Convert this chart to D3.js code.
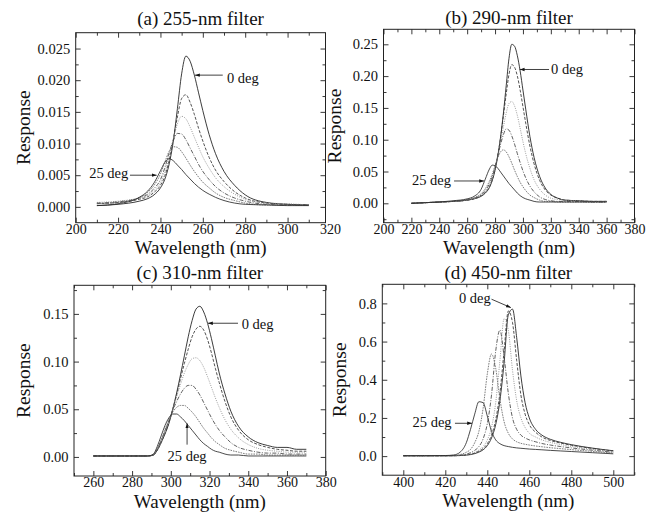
<!DOCTYPE html>
<html lang="en">
<head>
<meta charset="UTF-8">
<title>filter response vs angle</title>
<script src="https://d3js.org/d3.v7.min.js"></script>
<style>
	body { margin: 0; background: #fff; }
	svg text { font-family: "Liberation Serif", "Times New Roman", serif; fill: #111; }
</style>
</head>
<body>
<script>
// incidence angles, one curve each (0..25 deg)
var angles = ["0 deg", "5 deg", "10 deg", "15 deg", "20 deg", "25 deg"];

// (a) 255-nm filter
var wlA = [210,220,230,234,237,240,242,244,246,248,250,252,254,256,258,260,263,266,270,275,280,290,300,310];
var respA = [
	[.0002,.0004,.0009,.0013,.0019,.0030,.0043,.0066,.0102,.0155,.0210,.0238,.0230,.0208,.0180,.0152,.0114,.0084,.0056,.0034,.0019,.0007,.0004,.0003],
	[.0005,.0007,.0012,.0016,.0023,.0034,.0048,.0072,.0105,.0142,.0171,.0177,.0165,.0146,.0124,.0104,.0078,.0058,.0040,.0024,.0014,.0006,.0004,.0003],
	[.0007,.0009,.0014,.0018,.0026,.0038,.0054,.0078,.0106,.0131,.0143,.0139,.0126,.0110,.0094,.0079,.0061,.0046,.0032,.0020,.0012,.0006,.0005,.0003],
	[.0006,.0008,.0014,.0020,.0029,.0043,.0061,.0084,.0104,.0116,.0115,.0106,.0093,.0080,.0067,.0056,.0043,.0032,.0022,.0014,.0009,.0004,.0003,.0003],
	[.0005,.0007,.0015,.0023,.0034,.0052,.0070,.0087,.0095,.0094,.0087,.0077,.0066,.0056,.0047,.0039,.0030,.0022,.0015,.0010,.0006,.0003,.0003,.0002],
	[.0002,.0005,.0015,.0025,.0038,.0057,.0070,.0076,.0073,.0066,.0059,.0051,.0044,.0037,.0031,.0026,.0020,.0015,.0010,.0006,.0004,.0003,.0002,.0002]
];
var xTicksA = [200,220,240,260,280,300,320];
var yTicksA = [0,0.005,0.010,0.015,0.020,0.025];

// (b) 290-nm filter
var wlB = [220,230,240,250,260,265,270,273,276,278,280,282,284,286,288,290,292,294,296,298,300,302,305,308,312,316,320,325,330,340,350,360];
var respB = [
	[0,.001,.002,.003,.005,.007,.011,.016,.025,.036,.052,.075,.105,.142,.185,.228,.250,.247,.232,.208,.178,.148,.105,.072,.042,.024,.014,.008,.005,.004,.003,.003],
	[0,.001,.002,.003,.005,.007,.012,.017,.026,.037,.053,.076,.104,.138,.172,.203,.218,.214,.200,.178,.152,.126,.090,.062,.036,.021,.013,.008,.005,.004,.003,.003],
	[0,.001,.002,.003,.005,.007,.012,.018,.028,.039,.054,.074,.096,.120,.142,.157,.160,.153,.138,.118,.097,.078,.055,.037,.022,.013,.008,.006,.005,.004,.003,.003],
	[0,.001,.002,.003,.005,.008,.013,.020,.031,.042,.057,.075,.093,.108,.117,.115,.106,.093,.078,.064,.051,.040,.027,.018,.010,.006,.004,.003,.003,.003,.002,.002],
	[0,.001,.002,.003,.006,.009,.015,.023,.035,.046,.059,.072,.081,.084,.081,.073,.063,.052,.042,.033,.026,.020,.013,.009,.005,.003,.003,.002,.002,.002,.002,.002],
	[0,.001,.002,.004,.007,.011,.022,.038,.054,.060,.059,.055,.049,.043,.037,.031,.026,.021,.016,.012,.009,.007,.005,.003,.002,.002,.002,.002,.002,.002,.002,.002]
];
var xTicksB = [200,220,240,260,280,300,320,340,360,380];
var yTicksB = [0,0.05,0.10,0.15,0.20,0.25];

// (c) 310-nm filter
var wlC = [260,270,280,288,291,293,295,297,299,301,303,305,307,309,311,313,315,317,319,321,323,325,328,331,335,340,345,350,355,360,365,370];
var respC = [
	[.001,.001,.001,.001,.002,.007,.015,.024,.035,.050,.067,.086,.106,.126,.143,.155,.158,.152,.140,.124,.106,.088,.066,.048,.032,.021,.015,.012,.010,.010,.008,.008],
	[.001,.001,.001,.001,.002,.007,.015,.025,.036,.050,.065,.082,.098,.113,.126,.134,.137,.133,.123,.109,.093,.078,.058,.042,.028,.018,.013,.010,.008,.007,.006,.006],
	[.001,.001,.001,.001,.002,.008,.016,.026,.037,.050,.063,.076,.088,.097,.103,.104,.101,.094,.084,.073,.062,.052,.039,.029,.020,.013,.009,.007,.006,.005,.005,.005],
	[.001,.001,.001,.001,.002,.008,.017,.027,.038,.049,.058,.066,.072,.075,.075,.071,.065,.057,.049,.041,.034,.028,.021,.015,.010,.007,.005,.004,.004,.003,.003,.003],
	[.001,.001,.001,.001,.002,.009,.018,.029,.039,.047,.052,.054,.054,.051,.047,.042,.036,.030,.025,.020,.016,.013,.009,.007,.005,.003,.003,.002,.002,.002,.002,.002],
	[.001,.001,.001,.001,.003,.011,.022,.033,.041,.045,.045,.042,.038,.033,.028,.023,.018,.014,.011,.008,.006,.005,.003,.002,.002,.001,.001,.001,.001,.001,.001,.001]
];
var xTicksC = [260,280,300,320,340,360,380];
var yTicksC = [0,0.05,0.10,0.15];

// (d) 450-nm filter
var wlD = [400,410,420,424,427,430,432,434,436,438,440,442,444,446,448,450,452,454,456,458,460,463,466,470,475,480,490,500];
var respD = [
	[.002,.002,.002,.002,.003,.005,.008,.013,.021,.033,.055,.095,.165,.29,.49,.74,.77,.62,.42,.28,.2,.14,.11,.088,.072,.06,.042,.028],
	[.002,.002,.002,.002,.003,.006,.01,.016,.026,.04,.065,.11,.19,.33,.55,.76,.7,.5,.32,.22,.165,.125,.1,.082,.068,.057,.04,.027],
	[.002,.002,.002,.002,.004,.007,.012,.02,.032,.05,.085,.15,.28,.5,.72,.66,.45,.29,.2,.15,.12,.1,.085,.072,.06,.051,.036,.024],
	[.002,.002,.002,.003,.005,.01,.018,.03,.05,.09,.17,.32,.55,.66,.52,.33,.2,.14,.11,.095,.085,.075,.066,.058,.05,.043,.031,.02],
	[.002,.002,.002,.003,.008,.02,.035,.07,.13,.25,.43,.535,.46,.3,.18,.12,.09,.075,.067,.062,.058,.053,.049,.044,.039,.034,.025,.016],
	[.002,.002,.003,.006,.02,.07,.14,.22,.285,.28,.21,.13,.085,.065,.055,.05,.046,.043,.041,.039,.037,.035,.033,.03,.027,.024,.018,.012]
];
var xTicksD = [400,420,440,460,480,500];
var yTicksD = [0,0.2,0.4,0.6,0.8];

// line look per angle
var strokes = ["#1a1a1a", "#333", "#8a8a8a", "#444", "#666", "#2a2a2a"];
var dashes  = [null, "3,1.6", "1,1.3", "4,1.5,1,1.5", "1.6,1", null];

var W = 659, H = 516;
var svg = d3.select("body").append("svg").attr("width", W).attr("height", H);

svg.append("defs").append("marker")
	.attr("id", "ah").attr("viewBox", "0 0 10 10")
	.attr("refX", 10).attr("refY", 5)
	.attr("markerWidth", 6).attr("markerHeight", 6)
	.attr("orient", "auto")
	.append("path").attr("d", "M0,1.5L10,5L0,8.5Z").attr("fill", "#111");

var panels = [
	{ title: "(a) 255-nm filter", wl: wlA, resp: respA, xt: xTicksA, yt: yTicksA, fmt: ".3f",
	  xDom: [200, 317.9], yDom: [-0.0025, 0.0275], box: [75.7, 32.7, 325.5, 222.7],
	  xStep: 10, yStep: 0.0025, titleY: 24.5, ylabX: 30,
	  notes: [
		{ t: "0 deg", x: 271.4, y: 0.0196, anchor: "start", from: [269.4, 0.0208], to: [256.3, 0.0208] },
		{ t: "25 deg", x: 224.8, y: 0.00455, anchor: "end", from: [225.6, 0.0050], to: [238.2, 0.0050] }
	  ] },
	{ title: "(b) 290-nm filter", wl: wlB, resp: respB, xt: xTicksB, yt: yTicksB, fmt: ".2f",
	  xDom: [200, 380], yDom: [-0.0305, 0.2736], box: [383.5, 29.3, 634.5, 222.7],
	  xStep: 10, yStep: 0.025, titleY: 23.5, ylabX: 341,
	  notes: [
		{ t: "0 deg", x: 320.2, y: 0.2033, anchor: "start", from: [318.7, 0.2104], to: [297.7, 0.2104] },
		{ t: "25 deg", x: 248.4, y: 0.0288, anchor: "end", from: [250.6, 0.0351], to: [272.1, 0.0351] }
	  ] },
	{ title: "(c) 310-nm filter", wl: wlC, resp: respC, xt: xTicksC, yt: yTicksC, fmt: ".2f",
	  xDom: [250, 380], yDom: [-0.02, 0.18], box: [74, 285.3, 325.7, 476],
	  xStep: 10, yStep: 0.025, titleY: 279, ylabX: 30,
	  notes: [
		{ t: "0 deg", x: 336.6, y: 0.1339, anchor: "start", from: [334.7, 0.1402], to: [319.2, 0.1402] },
		{ t: "25 deg", x: 308.4, y: -0.0039, anchor: "middle", from: [308.4, 0.0129], to: [308.4, 0.0351] }
	  ] },
	{ title: "(d) 450-nm filter", wl: wlD, resp: respD, xt: xTicksD, yt: yTicksD, fmt: ".1f",
	  xDom: [390, 510], yDom: [-0.1, 0.9], box: [382.3, 284.3, 634.3, 475.2],
	  xStep: 10, yStep: 0.1, titleY: 278.5, ylabX: 346,
	  notes: [
		{ t: "0 deg", x: 426.5, y: 0.803, anchor: "start", from: [442, 0.822], to: [451.2, 0.778] },
		{ t: "25 deg", x: 423.0, y: 0.154, anchor: "end", from: [424.6, 0.172], to: [432.7, 0.172] }
	  ] }
];

function styleAxis(g, size) {
	g.select(".domain").remove();
	g.attr("font-family", null).attr("font-size", size);
	g.selectAll(".tick line").attr("stroke", "#222").attr("stroke-width", 0.9);
}

panels.forEach(function(p) {
	var x0 = p.box[0], y0 = p.box[1], x1 = p.box[2], y1 = p.box[3];
	var x = d3.scaleLinear().domain(p.xDom).range([x0, x1]);
	var y = d3.scaleLinear().domain(p.yDom).range([y1, y0]);
	var g = svg.append("g");

	var xMinor = d3.range(Math.ceil(p.xDom[0] / p.xStep) * p.xStep, p.xDom[1] + 1e-9, p.xStep)
		.filter(function(v){ return p.xt.indexOf(v) < 0; });
	var yMinor = d3.range(0, p.yDom[1], p.yStep).concat(d3.range(-p.yStep, p.yDom[0], -p.yStep))
		.filter(function(v){ return !p.yt.some(function(t){ return Math.abs(t - v) < 1e-9; }); });

	// curves
	var line = d3.line().curve(d3.curveMonotoneX)
		.x(function(d){ return x(d[0]); })
		.y(function(d){ return y(d[1]); });
	p.resp.forEach(function(r, i) {
		g.append("path")
			.datum(p.wl.map(function(w, k){ return [w, r[k]]; }))
			.attr("d", line)
			.attr("fill", "none")
			.attr("stroke", strokes[i])
			.attr("stroke-width", 0.85)
			.attr("stroke-dasharray", dashes[i]);
	});

	// axes, ticks inward on all four sides
	var bottom = g.append("g").attr("transform", "translate(0," + y1 + ")")
		.call(d3.axisBottom(x).tickValues(p.xt).tickSize(-5).tickPadding(1.5).tickFormat(d3.format("d")));
	styleAxis(bottom, "14px");
	bottom.selectAll(".tick").filter(function(d){ return d > p.xDom[1] || d < p.xDom[0]; }).select("line").remove();
	styleAxis(g.append("g").attr("transform", "translate(0," + y1 + ")")
		.call(d3.axisBottom(x).tickValues(xMinor).tickSize(-3).tickFormat("")), "0");
	styleAxis(g.append("g").attr("transform", "translate(0," + y0 + ")")
		.call(d3.axisTop(x).tickValues(p.xt.filter(function(v){ return v <= p.xDom[1]; })).tickSize(-5).tickFormat("")), "0");
	styleAxis(g.append("g").attr("transform", "translate(0," + y0 + ")")
		.call(d3.axisTop(x).tickValues(xMinor).tickSize(-3).tickFormat("")), "0");

	styleAxis(g.append("g").attr("transform", "translate(" + x0 + ",0)")
		.call(d3.axisLeft(y).tickValues(p.yt).tickSize(-5).tickPadding(5.5).tickFormat(d3.format(p.fmt))), "14.5px");
	styleAxis(g.append("g").attr("transform", "translate(" + x0 + ",0)")
		.call(d3.axisLeft(y).tickValues(yMinor).tickSize(-3).tickFormat("")), "0");
	styleAxis(g.append("g").attr("transform", "translate(" + x1 + ",0)")
		.call(d3.axisRight(y).tickValues(p.yt).tickSize(-5).tickFormat("")), "0");
	styleAxis(g.append("g").attr("transform", "translate(" + x1 + ",0)")
		.call(d3.axisRight(y).tickValues(yMinor).tickSize(-3).tickFormat("")), "0");

	g.append("rect")
		.attr("x", x0).attr("y", y0).attr("width", x1 - x0).attr("height", y1 - y0)
		.attr("fill", "none").attr("stroke", "#222").attr("stroke-width", 1);

	// titles
	g.append("text").attr("x", (x0 + x1) / 2).attr("y", p.titleY)
		.attr("text-anchor", "middle").attr("font-size", "19px").text(p.title);
	g.append("text").attr("x", (x0 + x1) / 2).attr("y", y1 + 31.5)
		.attr("text-anchor", "middle").attr("font-size", "19px").text("Wavelength (nm)");
	g.append("text")
		.attr("transform", "translate(" + p.ylabX + "," + (y0 + y1) / 2 + ") rotate(-90)")
		.attr("text-anchor", "middle").attr("font-size", "19.5px").text("Response");

	// angle labels with arrows
	p.notes.forEach(function(n) {
		g.append("line")
			.attr("x1", x(n.from[0])).attr("y1", y(n.from[1]))
			.attr("x2", x(n.to[0])).attr("y2", y(n.to[1]))
			.attr("stroke", "#111").attr("stroke-width", 0.8)
			.attr("marker-end", "url(#ah)");
		g.append("text").attr("x", x(n.x)).attr("y", y(n.y))
			.attr("text-anchor", n.anchor).attr("font-size", "14.5px").text(n.t);
	});
});
</script>
</body>
</html>
